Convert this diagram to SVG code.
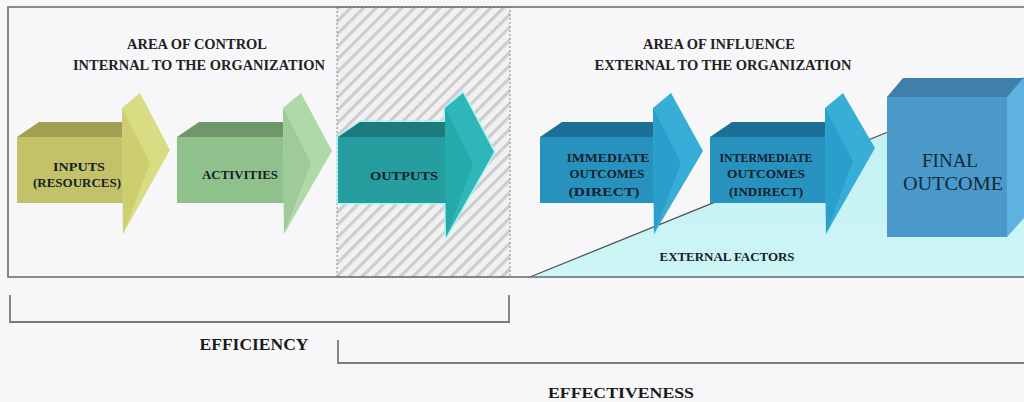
<svg xmlns="http://www.w3.org/2000/svg" width="1024" height="402" viewBox="0 0 1024 402" font-family="'Liberation Serif', 'DejaVu Serif', serif">
  <defs>
    <pattern id="hatch" width="9" height="9" patternUnits="userSpaceOnUse" patternTransform="rotate(45)">
      <rect width="9" height="9" fill="#f1f1f2"/>
      <rect x="0" y="0" width="3.2" height="9" fill="#cdcdcf"/>
    </pattern>
    <linearGradient id="cyan" x1="0" y1="0" x2="0" y2="1">
      <stop offset="0" stop-color="#bff0f3"/>
      <stop offset="1" stop-color="#cdf5f6"/>
    </linearGradient>
    <style>
      text { font-family: "Liberation Serif", "DejaVu Serif", serif; font-weight: bold; fill: #1a1a1a; text-anchor: middle; }
      .head { font-size: 14.5px; fill: #222; }
      .lbl { font-size: 13px; fill: #14202a; }
      .big { font-size: 19px; fill: #10283a; font-weight: normal; }
      .span { font-size: 17px; fill: #1a1a1a; }
      .frame { fill: none; stroke: #6a6a6a; stroke-width: 1.6; }
      .bracket { fill: none; stroke: #7a7a7a; stroke-width: 1.8; }
      #inputs .top { fill: #a19f51; } #inputs .front { fill: #c4c268; } #inputs .hfront { fill: #cdce70; } #inputs .hside { fill: #d9dc83; }
      #activities .top { fill: #6f976c; } #activities .front { fill: #90c08c; } #activities .hfront { fill: #9ecb99; } #activities .hside { fill: #afd9a9; }
      #outputs .top { fill: #1a7a7c; } #outputs .front { fill: #269ea0; } #outputs .hfront { fill: #25aaac; } #outputs .hside { fill: #2fb6b8; }
      #immediate .top, #intermediate .top { fill: #1d6f98; }
      #immediate .front, #intermediate .front { fill: #2892be; }
      #immediate .hfront, #intermediate .hfront { fill: #2b9fcb; }
      #immediate .hside, #intermediate .hside { fill: #36aed8; }
    </style>
  </defs>

  <!-- page background -->
  <rect width="1024" height="402" fill="#f7f7f9"/>

  <!-- zones: control area, hatched outputs column, external factors wedge -->
  <g id="zones">
    <rect x="337" y="7" width="173" height="270" fill="url(#hatch)"/>
    <rect x="337" y="7" width="173" height="270" fill="none" stroke="#8a8a8a" stroke-width="1" stroke-dasharray="2 2"/>
    <polygon points="530,277 1024,76 1024,277" fill="url(#cyan)"/>
    <line id="external-line" x1="530" y1="277" x2="888" y2="132" stroke="#555" stroke-width="1.3"/>
    <path class="frame" d="M1024,7 H8 V277 H1024"/>
  </g>

  <!-- area headings -->
  <g id="headings">
    <text class="head" x="197" y="49" textLength="140" lengthAdjust="spacingAndGlyphs">AREA OF CONTROL</text>
    <text class="head" x="199" y="70" textLength="252" lengthAdjust="spacingAndGlyphs">INTERNAL TO THE ORGANIZATION</text>
    <text class="head" x="719" y="49" textLength="152" lengthAdjust="spacingAndGlyphs">AREA OF INFLUENCE</text>
    <text class="head" x="723" y="70" textLength="257" lengthAdjust="spacingAndGlyphs">EXTERNAL TO THE ORGANIZATION</text>
    <text class="lbl" x="727" y="261" textLength="135" lengthAdjust="spacingAndGlyphs">EXTERNAL FACTORS</text>
  </g>

  <!-- process arrows -->
  <g id="inputs">
    <polygon class="top" points="17,137 39,122 122,122 122,137"/>
    <rect class="front" x="17" y="137" width="106" height="66"/>
    <polygon class="hside" points="122,108 140,93 170,150 123,234"/>
    <polygon class="hfront" points="122,108 150,163 123,234"/>
    <text class="lbl" x="79" y="171" textLength="52" lengthAdjust="spacingAndGlyphs">INPUTS</text>
    <text class="lbl" x="77" y="187" textLength="88" lengthAdjust="spacingAndGlyphs">(RESOURCES)</text>
  </g>

  <g id="activities">
    <polygon class="top" points="177,137 199,122 283,122 283,137"/>
    <rect class="front" x="177" y="137" width="107" height="66"/>
    <polygon class="hside" points="283,108 301,93 332,151 284,234"/>
    <polygon class="hfront" points="283,108 311,163 284,234"/>
    <text class="lbl" x="240" y="179" textLength="76" lengthAdjust="spacingAndGlyphs">ACTIVITIES</text>
  </g>

  <g id="outputs">
    <polygon points="338,137 360,122 445,122 445,108 463,93 494,152 446,237 446,203 338,203" fill="none" stroke="#aef2f2" stroke-width="3" stroke-linejoin="round"/>
    <polygon class="top" points="338,137 360,122 445,122 445,137"/>
    <rect class="front" x="338" y="137" width="108" height="66"/>
    <polygon class="hside" points="445,108 463,93 494,152 446,237"/>
    <polygon class="hfront" points="445,108 473,164 446,237"/>
    <text class="lbl" x="404" y="180" textLength="68" lengthAdjust="spacingAndGlyphs">OUTPUTS</text>
  </g>

  <g id="immediate">
    <polygon class="top" points="540,137 562,122 653,122 653,137"/>
    <rect class="front" x="540" y="137" width="114" height="66"/>
    <polygon class="hside" points="653,108 671,93 703,151 654,234"/>
    <polygon class="hfront" points="653,108 681,163 654,234"/>
    <text class="lbl" x="608" y="162" textLength="83" lengthAdjust="spacingAndGlyphs">IMMEDIATE</text>
    <text class="lbl" x="607" y="178" textLength="75" lengthAdjust="spacingAndGlyphs">OUTCOMES</text>
    <text class="lbl" x="604" y="196" textLength="71" lengthAdjust="spacingAndGlyphs">(DIRECT)</text>
  </g>

  <g id="intermediate">
    <polygon class="top" points="710,137 732,122 825,122 825,137"/>
    <rect class="front" x="710" y="137" width="116" height="66"/>
    <polygon class="hside" points="825,108 843,93 875,148 826,234"/>
    <polygon class="hfront" points="825,108 853,161 826,234"/>
    <text class="lbl" x="766" y="162" textLength="93" lengthAdjust="spacingAndGlyphs">INTERMEDIATE</text>
    <text class="lbl" x="766" y="178" textLength="78" lengthAdjust="spacingAndGlyphs">OUTCOMES</text>
    <text class="lbl" x="766" y="196" textLength="74" lengthAdjust="spacingAndGlyphs">(INDIRECT)</text>
  </g>

  <!-- final outcome block -->
  <g id="final">
    <polygon points="887,97 903,78 1024,78 1024,97" fill="#3f7fa9"/>
    <polygon points="1007,97 1024,77 1024,218 1007,237" fill="#5db2df"/>
    <rect x="887" y="97" width="120" height="140" fill="#4b99c8"/>
    <text class="big" x="950" y="167" textLength="56" lengthAdjust="spacingAndGlyphs">FINAL</text>
    <text class="big" x="953" y="190" textLength="100" lengthAdjust="spacingAndGlyphs">OUTCOME</text>
  </g>

  <!-- efficiency / effectiveness spans -->
  <g id="brackets">
    <path class="bracket" d="M10,295 V322 H509 V295"/>
    <path class="bracket" d="M338,340 V363 H1024"/>
  </g>
  <g id="span-labels">
    <text class="span" x="254" y="350" textLength="109" lengthAdjust="spacingAndGlyphs">EFFICIENCY</text>
    <text class="span" x="621" y="398" font-size="15" style="font-size:15px" textLength="146" lengthAdjust="spacingAndGlyphs">EFFECTIVENESS</text>
  </g>
</svg>
